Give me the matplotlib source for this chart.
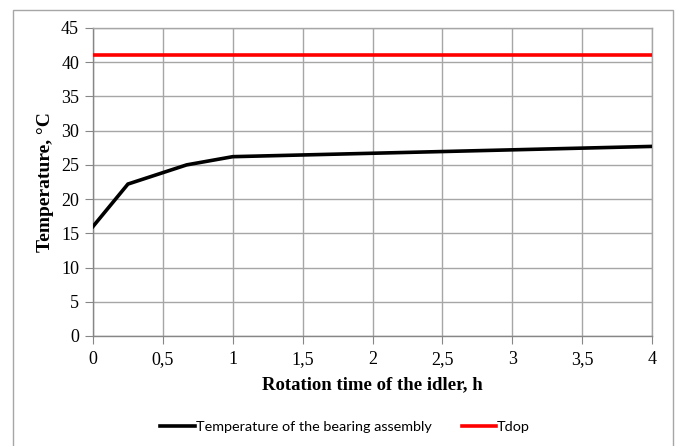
import matplotlib
matplotlib.use("Agg")
import matplotlib.pyplot as plt
from matplotlib.patches import Rectangle

time_h = [0, 0.25, 0.67, 1, 2, 3, 4]
temp_bearing = [16.0, 22.2, 25.0, 26.2, 26.7, 27.2, 27.7]
tdop_x = [0, 4]
tdop_y = [41, 41]
x_ticks = [0, 0.5, 1, 1.5, 2, 2.5, 3, 3.5, 4]
x_tick_labels = ["0", "0,5", "1", "1,5", "2", "2,5", "3", "3,5", "4"]
y_ticks = list(range(0, 46, 5))

W, H = 676, 446
fig = plt.figure(figsize=(W / 100, H / 100), dpi=100)
fig.patch.set_facecolor("white")

# outer chart border
fig.patches.append(Rectangle((13 / W, -5 / H), (673 - 13) / W, (441) / H,
                             transform=fig.transFigure, fill=False,
                             edgecolor="#a6a6a6", linewidth=1.0))

left, right, top, bottom = 93, 652, 28, 336
ax = fig.add_axes([left / W, 1 - bottom / H, (right - left) / W, (bottom - top) / H])

grid_c = "#a6a6a6"
ax.plot(time_h, temp_bearing, color="black", lw=2.6, solid_joinstyle="miter",
        label="Temperature of the bearing assembly", zorder=3)
ax.plot(tdop_x, tdop_y, color="#ff0000", lw=2.6, label="Tdop", zorder=3)

ax.set_xlim(0, 4)
ax.set_ylim(0, 45)
ax.set_xticks(x_ticks)
ax.set_xticklabels(x_tick_labels)
ax.set_yticks(y_ticks)
ax.grid(True, color=grid_c, lw=1.0)
ax.set_axisbelow(True)
for s in ax.spines.values():
    s.set_color(grid_c)
    s.set_linewidth(1.0)
ax.spines["left"].set_color("#868686")
ax.spines["bottom"].set_color("#868686")
ax.tick_params(axis="both", direction="out", length=6, color="#868686",
               labelsize=13, pad=4)
ax.tick_params(axis="x", pad=5)
for lab in ax.get_xticklabels() + ax.get_yticklabels():
    lab.set_fontfamily("Liberation Serif")

ax.set_xlabel("Rotation time of the idler, h", fontfamily="Liberation Serif",
              fontweight="bold", fontsize=13.5, labelpad=6)
ax.set_ylabel("Temperature, °C", fontfamily="Liberation Serif",
              fontweight="bold", fontsize=14, labelpad=5)

leg = fig.legend(loc="center", bbox_to_anchor=(345 / W, 1 - 427 / H), ncol=2,
                 frameon=False, prop={"family": "Lato", "size": 10.4},
                 handlelength=2.4, handletextpad=0.05, columnspacing=2.1)

fig.savefig("out.png", dpi=100, facecolor="white")
